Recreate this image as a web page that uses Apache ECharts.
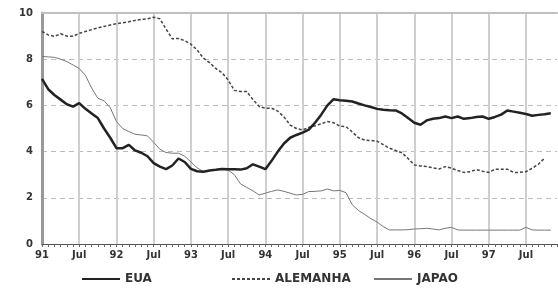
<!DOCTYPE html>
<html>
<head>
<meta charset="utf-8">
<script src="https://cdn.jsdelivr.net/npm/echarts@6/dist/echarts.min.js"></script>
<style>
  html, body { margin: 0; padding: 0; background: #fff; }
  #chart { width: 558px; height: 288px; }
</style>
</head>
<body>
<div id="chart"></div>
<script>
// meses de jan/91 a dez/97
var years = ["91", "92", "93", "94", "95", "96", "97"];
var months = [];
for (var y = 0; y < years.length; y++) {
    for (var k = 0; k < 12; k++) {
        months.push(k === 0 ? years[y] : (k === 6 ? "Jul" : years[y] + "-" + (k + 1)));
    }
}

var eua = [
    7.15, 6.7, 6.45, 6.25, 6.05, 5.95, 6.1, 5.85, 5.65, 5.45, 5.0, 4.6,
    4.15, 4.15, 4.29, 4.05, 3.95, 3.8, 3.5, 3.35, 3.24, 3.4, 3.7, 3.55,
    3.25, 3.15, 3.13, 3.18, 3.21, 3.25, 3.24, 3.24, 3.22, 3.28, 3.45, 3.35,
    3.24, 3.6, 4.0, 4.35, 4.6, 4.72, 4.82, 4.95, 5.25, 5.6, 6.0, 6.27,
    6.22, 6.2, 6.17, 6.08, 6.0, 5.93, 5.85, 5.81, 5.79, 5.78, 5.65, 5.45,
    5.25, 5.16, 5.35, 5.42, 5.45, 5.52, 5.45, 5.52, 5.42, 5.45, 5.5, 5.52,
    5.42, 5.5, 5.6, 5.78, 5.73, 5.68, 5.63, 5.55, 5.59, 5.62, 5.66
];

var alemanha = [
    9.2, 9.05, 8.99, 9.1, 9.0, 8.99, 9.12, 9.2, 9.28, 9.35, 9.42, 9.48,
    9.54, 9.58, 9.62, 9.68, 9.72, 9.75, 9.82, 9.75, 9.3, 8.88, 8.9, 8.8,
    8.65, 8.4, 8.05, 7.85, 7.6, 7.42, 7.1, 6.65, 6.6, 6.6, 6.25, 5.95,
    5.88, 5.88, 5.75, 5.5, 5.15, 5.0, 4.94, 5.05, 5.12, 5.2, 5.3, 5.25,
    5.1, 5.08, 4.85, 4.6, 4.5, 4.48, 4.45, 4.3, 4.15, 4.05, 3.95, 3.7,
    3.42, 3.38, 3.35, 3.3, 3.25, 3.35, 3.28, 3.18, 3.1, 3.13, 3.22, 3.15,
    3.1, 3.24, 3.24, 3.24, 3.1, 3.1, 3.13, 3.28, 3.45, 3.72
];

var japao = [
    8.12, 8.1, 8.08, 8.0, 7.9, 7.75, 7.6, 7.3, 6.75, 6.31, 6.2, 5.9,
    5.3, 5.0, 4.87, 4.75, 4.72, 4.68, 4.4, 4.1, 3.96, 3.93, 3.93, 3.8,
    3.55, 3.3, 3.13, 3.18, 3.21, 3.24, 3.2, 3.0, 2.6, 2.45, 2.3, 2.12,
    2.2, 2.28, 2.34, 2.28, 2.2, 2.12, 2.15, 2.27, 2.28, 2.3, 2.38, 2.3,
    2.32, 2.22, 1.7, 1.45, 1.28, 1.1, 0.95, 0.75, 0.61, 0.61, 0.61, 0.62,
    0.65, 0.66, 0.68, 0.65, 0.61, 0.68, 0.72, 0.61, 0.6, 0.6, 0.6, 0.6,
    0.6, 0.6, 0.6, 0.6, 0.6, 0.6, 0.72, 0.61, 0.6, 0.6, 0.6
];

var yTicks = [0, 2, 4, 6, 8, 10];

var myChart = echarts.init(document.getElementById("chart"), null, { renderer: "canvas" });

var legendText = {
    color: "#333",
    fontFamily: "DejaVu Sans",
    fontWeight: "bold",
    fontSize: 12
};
var legendBase = {
    top: 268,
    itemWidth: 38,
    itemHeight: 8,
    itemGap: 0,
    itemStyle: { opacity: 0 },
    textStyle: legendText
};

myChart.setOption({
    animation: false,
    backgroundColor: "#fff",
    grid: { left: 42, right: 1, top: 13, bottom: 44 },
    legend: [
        Object.assign({ data: ["EUA"], left: 76 }, legendBase),
        Object.assign({ data: ["ALEMANHA"], left: 226 }, legendBase),
        Object.assign({ data: ["JAPAO"], left: 368 }, legendBase)
    ],
    xAxis: [
        {
            type: "category",
            data: months,
            boundaryGap: false,
            axisLine: { lineStyle: { color: "#555", width: 1 } },
            axisTick: { interval: 0, length: 3, lineStyle: { color: "#666" } },
            axisLabel: {
                interval: 5,
                margin: 6,
                color: "#333",
                fontFamily: "DejaVu Sans",
                fontWeight: "bold",
                fontSize: 10
            },
            splitLine: {
                show: true,
                interval: 5,
                lineStyle: { color: "#cfcfcf", width: 2 }
            }
        },
        {
            // borda superior
            type: "category",
            data: months,
            position: "top",
            boundaryGap: false,
            axisLine: { lineStyle: { color: "#c0c0c0", width: 2 } },
            axisTick: { show: false },
            axisLabel: { show: false },
            splitLine: { show: false }
        }
    ],
    yAxis: {
        type: "value",
        min: yTicks[0],
        max: yTicks[yTicks.length - 1],
        interval: 2,
        axisLine: { show: true, lineStyle: { color: "#999", width: 3 } },
        axisTick: { show: false },
        axisLabel: {
            margin: 9,
            color: "#333",
            fontFamily: "DejaVu Sans",
            fontWeight: "bold",
            fontSize: 10
        },
        splitLine: {
            lineStyle: { color: "#bbb", type: [5, 4], width: 1 }
        }
    },
    series: [
        {
            name: "EUA",
            type: "line",
            data: eua,
            symbol: "none",
            color: "#222",
            lineStyle: { color: "#222", width: 2.5 },
            z: 4
        },
        {
            name: "ALEMANHA",
            type: "line",
            data: alemanha,
            symbol: "none",
            color: "#444",
            lineStyle: { color: "#444", width: 1.5, type: [3, 2] },
            z: 3
        },
        {
            name: "JAPAO",
            type: "line",
            data: japao,
            symbol: "none",
            color: "#777",
            lineStyle: { color: "#777", width: 1 },
            z: 2
        }
    ]
});
</script>
</body>
</html>
